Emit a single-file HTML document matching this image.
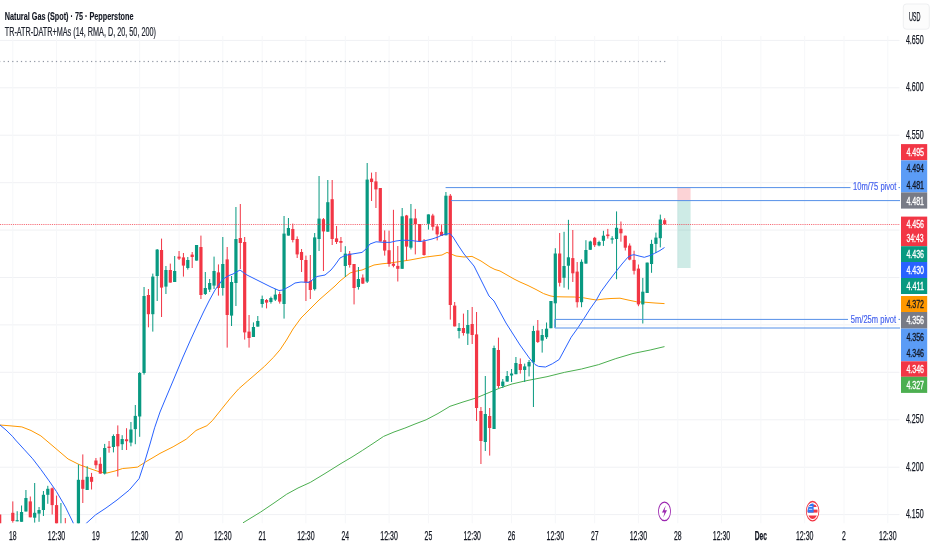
<!DOCTYPE html>
<html lang="en"><head><meta charset="utf-8"><title>Natural Gas (Spot) chart</title>
<style>html,body{margin:0;padding:0;background:#fff}body{width:932px;height:550px;overflow:hidden}</style></head>
<body>
<svg width="932" height="550" viewBox="0 0 932 550" style="display:block;font-family:'Liberation Sans',sans-serif">
<rect width="932" height="550" fill="#ffffff"/>
<g stroke="#f0f1f4" stroke-width="1">
<line x1="0" y1="40.4" x2="899.5" y2="40.4"/>
<line x1="0" y1="87.8" x2="899.5" y2="87.8"/>
<line x1="0" y1="135.2" x2="899.5" y2="135.2"/>
<line x1="0" y1="182.7" x2="899.5" y2="182.7"/>
<line x1="0" y1="230.1" x2="899.5" y2="230.1"/>
<line x1="0" y1="277.5" x2="899.5" y2="277.5"/>
<line x1="0" y1="324.9" x2="899.5" y2="324.9"/>
<line x1="0" y1="372.3" x2="899.5" y2="372.3"/>
<line x1="0" y1="419.8" x2="899.5" y2="419.8"/>
<line x1="0" y1="467.2" x2="899.5" y2="467.2"/>
<line x1="0" y1="514.6" x2="899.5" y2="514.6"/>
</g><g stroke="#f6f7f9" stroke-width="1">
<line x1="12.8" y1="36" x2="12.8" y2="523.3"/>
<line x1="56.5" y1="36" x2="56.5" y2="523.3"/>
<line x1="95.9" y1="36" x2="95.9" y2="523.3"/>
<line x1="139.7" y1="36" x2="139.7" y2="523.3"/>
<line x1="179.1" y1="36" x2="179.1" y2="523.3"/>
<line x1="222.8" y1="36" x2="222.8" y2="523.3"/>
<line x1="262.2" y1="36" x2="262.2" y2="523.3"/>
<line x1="305.9" y1="36" x2="305.9" y2="523.3"/>
<line x1="345.3" y1="36" x2="345.3" y2="523.3"/>
<line x1="389.1" y1="36" x2="389.1" y2="523.3"/>
<line x1="428.4" y1="36" x2="428.4" y2="523.3"/>
<line x1="472.2" y1="36" x2="472.2" y2="523.3"/>
<line x1="511.6" y1="36" x2="511.6" y2="523.3"/>
<line x1="555.3" y1="36" x2="555.3" y2="523.3"/>
<line x1="594.7" y1="36" x2="594.7" y2="523.3"/>
<line x1="638.4" y1="36" x2="638.4" y2="523.3"/>
<line x1="677.8" y1="36" x2="677.8" y2="523.3"/>
<line x1="721.5" y1="36" x2="721.5" y2="523.3"/>
<line x1="760.9" y1="36" x2="760.9" y2="523.3"/>
<line x1="804.7" y1="36" x2="804.7" y2="523.3"/>
<line x1="844.0" y1="36" x2="844.0" y2="523.3"/>
<line x1="887.8" y1="36" x2="887.8" y2="523.3"/>
</g>
<clipPath id="cp"><rect x="0" y="0" width="900" height="523.3"/></clipPath>
<g clip-path="url(#cp)">
<rect x="677.4" y="187.6" width="13.2" height="13.4" fill="#f23645" fill-opacity="0.22"/>
<rect x="677.4" y="201" width="13.2" height="67" fill="#089981" fill-opacity="0.2"/>
<g fill="#9096a2">
<rect x="-0.9" y="60.9" width="1.2" height="1.2"/>
<rect x="3.5" y="60.9" width="1.2" height="1.2"/>
<rect x="7.8" y="60.9" width="1.2" height="1.2"/>
<rect x="12.2" y="60.9" width="1.2" height="1.2"/>
<rect x="16.6" y="60.9" width="1.2" height="1.2"/>
<rect x="20.9" y="60.9" width="1.2" height="1.2"/>
<rect x="25.3" y="60.9" width="1.2" height="1.2"/>
<rect x="29.7" y="60.9" width="1.2" height="1.2"/>
<rect x="34.1" y="60.9" width="1.2" height="1.2"/>
<rect x="38.4" y="60.9" width="1.2" height="1.2"/>
<rect x="42.8" y="60.9" width="1.2" height="1.2"/>
<rect x="47.2" y="60.9" width="1.2" height="1.2"/>
<rect x="51.6" y="60.9" width="1.2" height="1.2"/>
<rect x="55.9" y="60.9" width="1.2" height="1.2"/>
<rect x="60.3" y="60.9" width="1.2" height="1.2"/>
<rect x="64.7" y="60.9" width="1.2" height="1.2"/>
<rect x="69.1" y="60.9" width="1.2" height="1.2"/>
<rect x="73.5" y="60.9" width="1.2" height="1.2"/>
<rect x="77.8" y="60.9" width="1.2" height="1.2"/>
<rect x="82.2" y="60.9" width="1.2" height="1.2"/>
<rect x="86.6" y="60.9" width="1.2" height="1.2"/>
<rect x="91.0" y="60.9" width="1.2" height="1.2"/>
<rect x="95.3" y="60.9" width="1.2" height="1.2"/>
<rect x="99.7" y="60.9" width="1.2" height="1.2"/>
<rect x="104.1" y="60.9" width="1.2" height="1.2"/>
<rect x="108.5" y="60.9" width="1.2" height="1.2"/>
<rect x="112.8" y="60.9" width="1.2" height="1.2"/>
<rect x="117.2" y="60.9" width="1.2" height="1.2"/>
<rect x="121.6" y="60.9" width="1.2" height="1.2"/>
<rect x="126.0" y="60.9" width="1.2" height="1.2"/>
<rect x="130.3" y="60.9" width="1.2" height="1.2"/>
<rect x="134.7" y="60.9" width="1.2" height="1.2"/>
<rect x="139.1" y="60.9" width="1.2" height="1.2"/>
<rect x="143.5" y="60.9" width="1.2" height="1.2"/>
<rect x="147.8" y="60.9" width="1.2" height="1.2"/>
<rect x="152.2" y="60.9" width="1.2" height="1.2"/>
<rect x="156.6" y="60.9" width="1.2" height="1.2"/>
<rect x="161.0" y="60.9" width="1.2" height="1.2"/>
<rect x="165.3" y="60.9" width="1.2" height="1.2"/>
<rect x="169.7" y="60.9" width="1.2" height="1.2"/>
<rect x="174.1" y="60.9" width="1.2" height="1.2"/>
<rect x="178.5" y="60.9" width="1.2" height="1.2"/>
<rect x="182.8" y="60.9" width="1.2" height="1.2"/>
<rect x="187.2" y="60.9" width="1.2" height="1.2"/>
<rect x="191.6" y="60.9" width="1.2" height="1.2"/>
<rect x="196.0" y="60.9" width="1.2" height="1.2"/>
<rect x="200.3" y="60.9" width="1.2" height="1.2"/>
<rect x="204.7" y="60.9" width="1.2" height="1.2"/>
<rect x="209.1" y="60.9" width="1.2" height="1.2"/>
<rect x="213.5" y="60.9" width="1.2" height="1.2"/>
<rect x="217.8" y="60.9" width="1.2" height="1.2"/>
<rect x="222.2" y="60.9" width="1.2" height="1.2"/>
<rect x="226.6" y="60.9" width="1.2" height="1.2"/>
<rect x="231.0" y="60.9" width="1.2" height="1.2"/>
<rect x="235.3" y="60.9" width="1.2" height="1.2"/>
<rect x="239.7" y="60.9" width="1.2" height="1.2"/>
<rect x="244.1" y="60.9" width="1.2" height="1.2"/>
<rect x="248.5" y="60.9" width="1.2" height="1.2"/>
<rect x="252.8" y="60.9" width="1.2" height="1.2"/>
<rect x="257.2" y="60.9" width="1.2" height="1.2"/>
<rect x="261.6" y="60.9" width="1.2" height="1.2"/>
<rect x="265.9" y="60.9" width="1.2" height="1.2"/>
<rect x="270.3" y="60.9" width="1.2" height="1.2"/>
<rect x="274.7" y="60.9" width="1.2" height="1.2"/>
<rect x="279.1" y="60.9" width="1.2" height="1.2"/>
<rect x="283.4" y="60.9" width="1.2" height="1.2"/>
<rect x="287.8" y="60.9" width="1.2" height="1.2"/>
<rect x="292.2" y="60.9" width="1.2" height="1.2"/>
<rect x="296.6" y="60.9" width="1.2" height="1.2"/>
<rect x="300.9" y="60.9" width="1.2" height="1.2"/>
<rect x="305.3" y="60.9" width="1.2" height="1.2"/>
<rect x="309.7" y="60.9" width="1.2" height="1.2"/>
<rect x="314.1" y="60.9" width="1.2" height="1.2"/>
<rect x="318.4" y="60.9" width="1.2" height="1.2"/>
<rect x="322.8" y="60.9" width="1.2" height="1.2"/>
<rect x="327.2" y="60.9" width="1.2" height="1.2"/>
<rect x="331.6" y="60.9" width="1.2" height="1.2"/>
<rect x="335.9" y="60.9" width="1.2" height="1.2"/>
<rect x="340.3" y="60.9" width="1.2" height="1.2"/>
<rect x="344.7" y="60.9" width="1.2" height="1.2"/>
<rect x="349.1" y="60.9" width="1.2" height="1.2"/>
<rect x="353.4" y="60.9" width="1.2" height="1.2"/>
<rect x="357.8" y="60.9" width="1.2" height="1.2"/>
<rect x="362.2" y="60.9" width="1.2" height="1.2"/>
<rect x="366.6" y="60.9" width="1.2" height="1.2"/>
<rect x="370.9" y="60.9" width="1.2" height="1.2"/>
<rect x="375.3" y="60.9" width="1.2" height="1.2"/>
<rect x="379.7" y="60.9" width="1.2" height="1.2"/>
<rect x="384.1" y="60.9" width="1.2" height="1.2"/>
<rect x="388.4" y="60.9" width="1.2" height="1.2"/>
<rect x="392.8" y="60.9" width="1.2" height="1.2"/>
<rect x="397.2" y="60.9" width="1.2" height="1.2"/>
<rect x="401.6" y="60.9" width="1.2" height="1.2"/>
<rect x="405.9" y="60.9" width="1.2" height="1.2"/>
<rect x="410.3" y="60.9" width="1.2" height="1.2"/>
<rect x="414.7" y="60.9" width="1.2" height="1.2"/>
<rect x="419.1" y="60.9" width="1.2" height="1.2"/>
<rect x="423.4" y="60.9" width="1.2" height="1.2"/>
<rect x="427.8" y="60.9" width="1.2" height="1.2"/>
<rect x="432.2" y="60.9" width="1.2" height="1.2"/>
<rect x="436.6" y="60.9" width="1.2" height="1.2"/>
<rect x="440.9" y="60.9" width="1.2" height="1.2"/>
<rect x="445.3" y="60.9" width="1.2" height="1.2"/>
<rect x="449.7" y="60.9" width="1.2" height="1.2"/>
<rect x="454.1" y="60.9" width="1.2" height="1.2"/>
<rect x="458.4" y="60.9" width="1.2" height="1.2"/>
<rect x="462.8" y="60.9" width="1.2" height="1.2"/>
<rect x="467.2" y="60.9" width="1.2" height="1.2"/>
<rect x="471.6" y="60.9" width="1.2" height="1.2"/>
<rect x="475.9" y="60.9" width="1.2" height="1.2"/>
<rect x="480.3" y="60.9" width="1.2" height="1.2"/>
<rect x="484.7" y="60.9" width="1.2" height="1.2"/>
<rect x="489.1" y="60.9" width="1.2" height="1.2"/>
<rect x="493.4" y="60.9" width="1.2" height="1.2"/>
<rect x="497.8" y="60.9" width="1.2" height="1.2"/>
<rect x="502.2" y="60.9" width="1.2" height="1.2"/>
<rect x="506.6" y="60.9" width="1.2" height="1.2"/>
<rect x="510.9" y="60.9" width="1.2" height="1.2"/>
<rect x="515.3" y="60.9" width="1.2" height="1.2"/>
<rect x="519.7" y="60.9" width="1.2" height="1.2"/>
<rect x="524.1" y="60.9" width="1.2" height="1.2"/>
<rect x="528.4" y="60.9" width="1.2" height="1.2"/>
<rect x="532.8" y="60.9" width="1.2" height="1.2"/>
<rect x="537.2" y="60.9" width="1.2" height="1.2"/>
<rect x="541.6" y="60.9" width="1.2" height="1.2"/>
<rect x="545.9" y="60.9" width="1.2" height="1.2"/>
<rect x="550.3" y="60.9" width="1.2" height="1.2"/>
<rect x="554.7" y="60.9" width="1.2" height="1.2"/>
<rect x="559.1" y="60.9" width="1.2" height="1.2"/>
<rect x="563.4" y="60.9" width="1.2" height="1.2"/>
<rect x="567.8" y="60.9" width="1.2" height="1.2"/>
<rect x="572.2" y="60.9" width="1.2" height="1.2"/>
<rect x="576.6" y="60.9" width="1.2" height="1.2"/>
<rect x="580.9" y="60.9" width="1.2" height="1.2"/>
<rect x="585.3" y="60.9" width="1.2" height="1.2"/>
<rect x="589.7" y="60.9" width="1.2" height="1.2"/>
<rect x="594.1" y="60.9" width="1.2" height="1.2"/>
<rect x="598.4" y="60.9" width="1.2" height="1.2"/>
<rect x="602.8" y="60.9" width="1.2" height="1.2"/>
<rect x="607.2" y="60.9" width="1.2" height="1.2"/>
<rect x="611.6" y="60.9" width="1.2" height="1.2"/>
<rect x="615.9" y="60.9" width="1.2" height="1.2"/>
<rect x="620.3" y="60.9" width="1.2" height="1.2"/>
<rect x="624.7" y="60.9" width="1.2" height="1.2"/>
<rect x="629.1" y="60.9" width="1.2" height="1.2"/>
<rect x="633.4" y="60.9" width="1.2" height="1.2"/>
<rect x="637.8" y="60.9" width="1.2" height="1.2"/>
<rect x="642.2" y="60.9" width="1.2" height="1.2"/>
<rect x="646.6" y="60.9" width="1.2" height="1.2"/>
<rect x="650.9" y="60.9" width="1.2" height="1.2"/>
<rect x="655.3" y="60.9" width="1.2" height="1.2"/>
<rect x="659.7" y="60.9" width="1.2" height="1.2"/>
<rect x="664.1" y="60.9" width="1.2" height="1.2"/>
</g>
<path d="M243.0 522.8 L260.7 512.0 L274.0 503.0 L286.7 494.2 L298.0 488.0 L310.3 482.4 L325.0 473.5 L341.0 463.5 L352.0 457.0 L362.3 450.5 L373.0 443.5 L383.6 436.4 L394.0 432.0 L404.9 428.1 L415.0 424.0 L426.1 419.8 L438.0 413.5 L450.0 406.3 L463.0 402.0 L476.0 398.0 L488.0 393.0 L500.0 388.0 L512.0 384.0 L524.0 381.2 L530.0 380.0 L547.0 376.7 L564.3 372.4 L581.5 369.0 L598.7 364.6 L615.8 358.6 L633.0 353.5 L650.2 350.0 L664.5 346.6" fill="none" stroke="#4caf50" stroke-width="1" stroke-linejoin="round"/>
<path d="M0.0 425.0 L10.0 425.8 L21.8 426.9 L31.0 430.5 L40.9 435.9 L54.0 447.0 L68.1 459.0 L79.0 464.5 L89.9 468.6 L100.0 472.0 L107.0 473.0 L115.0 471.0 L122.7 468.5 L130.0 467.9 L137.5 467.1 L145.6 461.9 L154.0 457.0 L160.0 453.4 L173.1 446.8 L186.2 439.2 L196.0 430.5 L199.2 429.0 L206.9 425.7 L212.3 420.7 L221.0 409.8 L229.8 398.9 L238.5 389.0 L247.2 381.4 L256.0 373.8 L264.7 366.2 L273.4 357.4 L280.0 349.8 L286.5 340.0 L293.0 329.0 L301.0 318.0 L310.0 309.0 L319.0 300.0 L327.0 293.0 L335.0 286.0 L340.0 281.0 L345.0 277.0 L350.0 273.0 L356.0 271.2 L362.0 270.0 L368.0 267.5 L374.0 265.0 L382.0 263.8 L390.0 263.0 L400.0 261.5 L410.0 260.0 L418.0 258.5 L426.0 257.0 L434.0 256.0 L442.0 255.0 L447.0 252.4 L451.0 254.0 L456.0 256.0 L464.0 257.0 L472.0 256.4 L481.0 261.0 L490.0 267.0 L495.0 269.5 L500.0 271.0 L507.0 275.0 L514.0 279.0 L520.0 282.0 L528.0 285.5 L536.0 289.5 L543.6 293.6 L550.0 295.8 L554.5 296.7 L564.0 296.9 L574.5 297.0 L583.6 297.8 L590.0 299.0 L596.4 300.0 L604.0 299.0 L611.0 298.5 L620.0 298.2 L628.0 300.0 L636.7 301.8 L646.0 302.3 L655.0 303.0 L664.5 303.6" fill="none" stroke="#ff9800" stroke-width="1" stroke-linejoin="round"/>
<rect x="-0.82" y="514.5" width="1" height="15.5" fill="#f23645"/>
<rect x="-1.92" y="514.5" width="3.2" height="15.5" fill="#f23645"/>
<rect x="12.30" y="501.4" width="1" height="21.2" fill="#f23645"/>
<rect x="11.20" y="512.8" width="3.2" height="8.2" fill="#f23645"/>
<rect x="16.68" y="511.2" width="1" height="10.1" fill="#089981"/>
<rect x="15.58" y="520.2" width="3.2" height="1.1" fill="#089981"/>
<rect x="21.05" y="505.5" width="1" height="16.3" fill="#089981"/>
<rect x="19.95" y="512.0" width="3.2" height="9.8" fill="#089981"/>
<rect x="25.43" y="490.0" width="1" height="21.5" fill="#089981"/>
<rect x="24.32" y="498.0" width="3.2" height="13.5" fill="#089981"/>
<rect x="29.80" y="496.5" width="1" height="20.8" fill="#f23645"/>
<rect x="28.70" y="501.4" width="3.2" height="15.9" fill="#f23645"/>
<rect x="34.17" y="483.0" width="1" height="39.6" fill="#089981"/>
<rect x="33.07" y="512.8" width="3.2" height="4.9" fill="#089981"/>
<rect x="38.55" y="507.0" width="1" height="14.8" fill="#089981"/>
<rect x="37.45" y="510.0" width="3.2" height="3.6" fill="#089981"/>
<rect x="42.92" y="491.0" width="1" height="25.0" fill="#089981"/>
<rect x="41.82" y="494.8" width="3.2" height="15.2" fill="#089981"/>
<rect x="47.30" y="485.8" width="1" height="18.0" fill="#089981"/>
<rect x="46.20" y="488.8" width="3.2" height="6.0" fill="#089981"/>
<rect x="51.67" y="487.5" width="1" height="27.0" fill="#f23645"/>
<rect x="50.57" y="488.3" width="3.2" height="16.8" fill="#f23645"/>
<rect x="56.05" y="495.6" width="1" height="34.4" fill="#f23645"/>
<rect x="54.95" y="505.1" width="3.2" height="24.9" fill="#f23645"/>
<rect x="60.42" y="503.0" width="1" height="27.0" fill="#089981"/>
<rect x="59.32" y="526.0" width="3.2" height="4.0" fill="#089981"/>
<rect x="64.80" y="518.0" width="1" height="12.0" fill="#f23645"/>
<rect x="63.70" y="526.0" width="3.2" height="4.0" fill="#f23645"/>
<rect x="77.92" y="464.5" width="1" height="65.5" fill="#089981"/>
<rect x="76.83" y="479.8" width="3.2" height="50.2" fill="#089981"/>
<rect x="82.30" y="454.4" width="1" height="48.6" fill="#f23645"/>
<rect x="81.20" y="479.8" width="3.2" height="9.0" fill="#f23645"/>
<rect x="86.67" y="466.2" width="1" height="23.8" fill="#089981"/>
<rect x="85.58" y="476.8" width="3.2" height="13.2" fill="#089981"/>
<rect x="91.05" y="472.9" width="1" height="16.6" fill="#f23645"/>
<rect x="89.95" y="476.9" width="3.2" height="4.9" fill="#f23645"/>
<rect x="95.42" y="458.0" width="1" height="10.7" fill="#f23645"/>
<rect x="94.33" y="460.5" width="3.2" height="4.7" fill="#f23645"/>
<rect x="99.80" y="457.3" width="1" height="16.3" fill="#f23645"/>
<rect x="98.70" y="463.8" width="3.2" height="9.8" fill="#f23645"/>
<rect x="104.17" y="443.9" width="1" height="30.6" fill="#089981"/>
<rect x="103.08" y="448.0" width="3.2" height="25.6" fill="#089981"/>
<rect x="108.55" y="441.0" width="1" height="11.7" fill="#f23645"/>
<rect x="107.45" y="446.6" width="3.2" height="1.4" fill="#f23645"/>
<rect x="112.92" y="434.4" width="1" height="18.0" fill="#089981"/>
<rect x="111.83" y="436.0" width="3.2" height="11.0" fill="#089981"/>
<rect x="117.30" y="425.4" width="1" height="51.2" fill="#f23645"/>
<rect x="116.20" y="434.0" width="3.2" height="12.3" fill="#f23645"/>
<rect x="121.67" y="435.2" width="1" height="14.8" fill="#089981"/>
<rect x="120.58" y="439.0" width="3.2" height="5.2" fill="#089981"/>
<rect x="126.05" y="428.2" width="1" height="21.8" fill="#f23645"/>
<rect x="124.95" y="439.3" width="3.2" height="1.9" fill="#f23645"/>
<rect x="130.43" y="422.0" width="1" height="24.3" fill="#089981"/>
<rect x="129.33" y="429.5" width="3.2" height="13.1" fill="#089981"/>
<rect x="134.80" y="405.0" width="1" height="39.2" fill="#089981"/>
<rect x="133.70" y="415.9" width="3.2" height="13.2" fill="#089981"/>
<rect x="139.18" y="372.0" width="1" height="64.8" fill="#089981"/>
<rect x="138.08" y="373.0" width="3.2" height="43.5" fill="#089981"/>
<rect x="143.55" y="287.0" width="1" height="87.6" fill="#089981"/>
<rect x="142.45" y="296.0" width="3.2" height="77.0" fill="#089981"/>
<rect x="147.93" y="289.0" width="1" height="38.3" fill="#f23645"/>
<rect x="146.83" y="295.0" width="3.2" height="19.2" fill="#f23645"/>
<rect x="152.30" y="273.6" width="1" height="58.0" fill="#089981"/>
<rect x="151.20" y="276.6" width="3.2" height="37.6" fill="#089981"/>
<rect x="156.68" y="249.0" width="1" height="52.0" fill="#089981"/>
<rect x="155.58" y="249.6" width="3.2" height="26.4" fill="#089981"/>
<rect x="161.05" y="238.6" width="1" height="78.4" fill="#f23645"/>
<rect x="159.95" y="250.0" width="3.2" height="37.6" fill="#f23645"/>
<rect x="165.43" y="266.0" width="1" height="28.0" fill="#089981"/>
<rect x="164.33" y="270.0" width="3.2" height="16.6" fill="#089981"/>
<rect x="169.80" y="263.6" width="1" height="19.0" fill="#f23645"/>
<rect x="168.70" y="270.0" width="3.2" height="12.6" fill="#f23645"/>
<rect x="174.18" y="256.0" width="1" height="26.0" fill="#089981"/>
<rect x="173.08" y="271.0" width="3.2" height="11.0" fill="#089981"/>
<rect x="178.55" y="251.0" width="1" height="9.0" fill="#f23645"/>
<rect x="177.45" y="256.6" width="3.2" height="2.0" fill="#f23645"/>
<rect x="182.93" y="253.0" width="1" height="23.6" fill="#f23645"/>
<rect x="181.83" y="257.4" width="3.2" height="8.2" fill="#f23645"/>
<rect x="187.30" y="257.0" width="1" height="12.6" fill="#089981"/>
<rect x="186.20" y="260.0" width="3.2" height="8.0" fill="#089981"/>
<rect x="191.68" y="252.0" width="1" height="16.0" fill="#f23645"/>
<rect x="190.58" y="254.6" width="3.2" height="2.4" fill="#f23645"/>
<rect x="196.05" y="245.0" width="1" height="15.6" fill="#089981"/>
<rect x="194.95" y="245.0" width="3.2" height="15.6" fill="#089981"/>
<rect x="200.43" y="235.6" width="1" height="63.4" fill="#f23645"/>
<rect x="199.33" y="247.0" width="3.2" height="48.0" fill="#f23645"/>
<rect x="204.80" y="272.0" width="1" height="23.0" fill="#089981"/>
<rect x="203.70" y="288.0" width="3.2" height="6.0" fill="#089981"/>
<rect x="209.18" y="279.0" width="1" height="13.0" fill="#089981"/>
<rect x="208.08" y="283.0" width="3.2" height="6.6" fill="#089981"/>
<rect x="213.55" y="256.6" width="1" height="32.4" fill="#089981"/>
<rect x="212.45" y="271.0" width="3.2" height="14.6" fill="#089981"/>
<rect x="217.93" y="264.4" width="1" height="31.2" fill="#f23645"/>
<rect x="216.83" y="272.4" width="3.2" height="15.6" fill="#f23645"/>
<rect x="222.30" y="237.0" width="1" height="58.6" fill="#089981"/>
<rect x="221.20" y="264.0" width="3.2" height="24.0" fill="#089981"/>
<rect x="226.68" y="247.0" width="1" height="100.6" fill="#f23645"/>
<rect x="225.58" y="259.4" width="3.2" height="55.6" fill="#f23645"/>
<rect x="231.05" y="276.0" width="1" height="50.0" fill="#089981"/>
<rect x="229.95" y="282.0" width="3.2" height="33.6" fill="#089981"/>
<rect x="235.43" y="207.0" width="1" height="99.0" fill="#089981"/>
<rect x="234.33" y="239.0" width="3.2" height="44.0" fill="#089981"/>
<rect x="239.80" y="204.0" width="1" height="65.0" fill="#f23645"/>
<rect x="238.70" y="238.0" width="3.2" height="5.0" fill="#f23645"/>
<rect x="244.18" y="237.0" width="1" height="102.6" fill="#f23645"/>
<rect x="243.08" y="242.0" width="3.2" height="90.4" fill="#f23645"/>
<rect x="248.55" y="315.0" width="1" height="32.6" fill="#f23645"/>
<rect x="247.45" y="331.6" width="3.2" height="6.4" fill="#f23645"/>
<rect x="252.93" y="322.4" width="1" height="14.6" fill="#089981"/>
<rect x="251.83" y="327.0" width="3.2" height="10.0" fill="#089981"/>
<rect x="257.30" y="316.0" width="1" height="10.6" fill="#089981"/>
<rect x="256.20" y="321.0" width="3.2" height="5.6" fill="#089981"/>
<rect x="261.68" y="295.6" width="1" height="12.0" fill="#089981"/>
<rect x="260.57" y="299.0" width="3.2" height="5.0" fill="#089981"/>
<rect x="266.05" y="299.0" width="1" height="9.4" fill="#f23645"/>
<rect x="264.95" y="300.0" width="3.2" height="2.6" fill="#f23645"/>
<rect x="270.43" y="296.6" width="1" height="7.0" fill="#089981"/>
<rect x="269.32" y="298.0" width="3.2" height="4.0" fill="#089981"/>
<rect x="274.80" y="289.0" width="1" height="12.0" fill="#089981"/>
<rect x="273.70" y="294.6" width="3.2" height="5.0" fill="#089981"/>
<rect x="279.18" y="291.6" width="1" height="12.0" fill="#f23645"/>
<rect x="278.07" y="294.0" width="3.2" height="7.6" fill="#f23645"/>
<rect x="283.55" y="216.0" width="1" height="102.6" fill="#089981"/>
<rect x="282.45" y="233.6" width="3.2" height="70.4" fill="#089981"/>
<rect x="287.93" y="218.0" width="1" height="17.6" fill="#089981"/>
<rect x="286.82" y="228.0" width="3.2" height="7.6" fill="#089981"/>
<rect x="292.30" y="223.6" width="1" height="18.8" fill="#f23645"/>
<rect x="291.20" y="229.0" width="3.2" height="11.0" fill="#f23645"/>
<rect x="296.68" y="236.4" width="1" height="21.6" fill="#f23645"/>
<rect x="295.57" y="239.0" width="3.2" height="15.4" fill="#f23645"/>
<rect x="301.05" y="249.0" width="1" height="23.0" fill="#f23645"/>
<rect x="299.95" y="252.0" width="3.2" height="8.0" fill="#f23645"/>
<rect x="305.43" y="255.6" width="1" height="45.4" fill="#f23645"/>
<rect x="304.32" y="260.0" width="3.2" height="22.7" fill="#f23645"/>
<rect x="309.80" y="255.0" width="1" height="44.0" fill="#f23645"/>
<rect x="308.70" y="281.0" width="3.2" height="9.0" fill="#f23645"/>
<rect x="314.18" y="233.0" width="1" height="57.6" fill="#089981"/>
<rect x="313.07" y="237.4" width="3.2" height="51.8" fill="#089981"/>
<rect x="318.55" y="176.0" width="1" height="75.0" fill="#089981"/>
<rect x="317.45" y="218.6" width="3.2" height="20.4" fill="#089981"/>
<rect x="322.93" y="218.0" width="1" height="53.0" fill="#f23645"/>
<rect x="321.82" y="219.2" width="3.2" height="12.2" fill="#f23645"/>
<rect x="327.30" y="180.0" width="1" height="51.7" fill="#089981"/>
<rect x="326.20" y="202.2" width="3.2" height="29.5" fill="#089981"/>
<rect x="331.68" y="180.0" width="1" height="65.0" fill="#f23645"/>
<rect x="330.57" y="199.2" width="3.2" height="39.8" fill="#f23645"/>
<rect x="336.05" y="226.0" width="1" height="18.0" fill="#f23645"/>
<rect x="334.95" y="238.4" width="3.2" height="3.6" fill="#f23645"/>
<rect x="340.43" y="237.0" width="1" height="15.0" fill="#f23645"/>
<rect x="339.32" y="241.0" width="3.2" height="1.8" fill="#f23645"/>
<rect x="344.80" y="246.2" width="1" height="30.8" fill="#089981"/>
<rect x="343.70" y="253.6" width="3.2" height="12.4" fill="#089981"/>
<rect x="349.18" y="251.0" width="1" height="16.6" fill="#f23645"/>
<rect x="348.07" y="253.6" width="3.2" height="11.4" fill="#f23645"/>
<rect x="353.55" y="264.0" width="1" height="40.4" fill="#f23645"/>
<rect x="352.45" y="264.0" width="3.2" height="24.0" fill="#f23645"/>
<rect x="357.93" y="267.0" width="1" height="22.6" fill="#089981"/>
<rect x="356.82" y="279.0" width="3.2" height="8.0" fill="#089981"/>
<rect x="362.30" y="274.4" width="1" height="9.6" fill="#f23645"/>
<rect x="361.20" y="277.6" width="3.2" height="6.0" fill="#f23645"/>
<rect x="366.68" y="163.0" width="1" height="120.0" fill="#089981"/>
<rect x="365.57" y="179.6" width="3.2" height="102.0" fill="#089981"/>
<rect x="371.05" y="172.6" width="1" height="28.4" fill="#f23645"/>
<rect x="369.95" y="178.6" width="3.2" height="3.4" fill="#f23645"/>
<rect x="375.43" y="172.0" width="1" height="36.0" fill="#f23645"/>
<rect x="374.32" y="181.4" width="3.2" height="8.0" fill="#f23645"/>
<rect x="379.80" y="188.0" width="1" height="53.5" fill="#f23645"/>
<rect x="378.70" y="188.0" width="3.2" height="53.5" fill="#f23645"/>
<rect x="384.18" y="230.4" width="1" height="25.2" fill="#f23645"/>
<rect x="383.07" y="240.2" width="3.2" height="10.4" fill="#f23645"/>
<rect x="388.55" y="230.6" width="1" height="36.1" fill="#f23645"/>
<rect x="387.45" y="250.2" width="3.2" height="13.8" fill="#f23645"/>
<rect x="392.93" y="209.8" width="1" height="57.5" fill="#f23645"/>
<rect x="391.82" y="263.7" width="3.2" height="2.1" fill="#f23645"/>
<rect x="397.30" y="246.0" width="1" height="35.5" fill="#f23645"/>
<rect x="396.20" y="265.9" width="3.2" height="2.9" fill="#f23645"/>
<rect x="401.68" y="208.0" width="1" height="60.8" fill="#089981"/>
<rect x="400.57" y="216.3" width="3.2" height="52.5" fill="#089981"/>
<rect x="406.05" y="214.9" width="1" height="45.5" fill="#f23645"/>
<rect x="404.95" y="215.5" width="3.2" height="31.1" fill="#f23645"/>
<rect x="410.43" y="204.0" width="1" height="45.5" fill="#089981"/>
<rect x="409.32" y="218.4" width="3.2" height="29.3" fill="#089981"/>
<rect x="414.80" y="208.9" width="1" height="45.5" fill="#f23645"/>
<rect x="413.70" y="218.4" width="3.2" height="5.6" fill="#f23645"/>
<rect x="419.18" y="224.0" width="1" height="17.3" fill="#f23645"/>
<rect x="418.07" y="224.0" width="3.2" height="17.3" fill="#f23645"/>
<rect x="423.55" y="239.0" width="1" height="16.6" fill="#f23645"/>
<rect x="422.45" y="241.3" width="3.2" height="13.7" fill="#f23645"/>
<rect x="427.93" y="214.4" width="1" height="15.2" fill="#089981"/>
<rect x="426.82" y="214.4" width="3.2" height="9.4" fill="#089981"/>
<rect x="432.30" y="213.8" width="1" height="16.7" fill="#f23645"/>
<rect x="431.20" y="215.5" width="3.2" height="11.3" fill="#f23645"/>
<rect x="436.68" y="224.2" width="1" height="16.2" fill="#f23645"/>
<rect x="435.57" y="226.4" width="3.2" height="8.0" fill="#f23645"/>
<rect x="441.05" y="225.1" width="1" height="10.9" fill="#f23645"/>
<rect x="439.95" y="231.8" width="3.2" height="4.2" fill="#f23645"/>
<rect x="445.43" y="192.0" width="1" height="43.3" fill="#089981"/>
<rect x="444.32" y="195.7" width="3.2" height="39.6" fill="#089981"/>
<rect x="449.80" y="194.0" width="1" height="125.6" fill="#f23645"/>
<rect x="448.70" y="195.7" width="3.2" height="109.3" fill="#f23645"/>
<rect x="454.18" y="302.0" width="1" height="24.4" fill="#f23645"/>
<rect x="453.07" y="305.6" width="3.2" height="20.8" fill="#f23645"/>
<rect x="458.55" y="323.0" width="1" height="15.4" fill="#089981"/>
<rect x="457.45" y="328.0" width="3.2" height="3.0" fill="#089981"/>
<rect x="462.93" y="313.6" width="1" height="22.0" fill="#f23645"/>
<rect x="461.82" y="328.0" width="3.2" height="5.0" fill="#f23645"/>
<rect x="467.30" y="310.0" width="1" height="35.0" fill="#089981"/>
<rect x="466.20" y="325.0" width="3.2" height="8.6" fill="#089981"/>
<rect x="471.68" y="307.0" width="1" height="37.0" fill="#f23645"/>
<rect x="470.57" y="324.0" width="3.2" height="11.0" fill="#f23645"/>
<rect x="476.05" y="312.0" width="1" height="109.0" fill="#f23645"/>
<rect x="474.95" y="334.4" width="3.2" height="73.6" fill="#f23645"/>
<rect x="480.43" y="407.0" width="1" height="57.0" fill="#f23645"/>
<rect x="479.32" y="411.0" width="3.2" height="30.0" fill="#f23645"/>
<rect x="484.80" y="376.0" width="1" height="75.0" fill="#089981"/>
<rect x="483.70" y="414.0" width="3.2" height="28.0" fill="#089981"/>
<rect x="489.18" y="408.0" width="1" height="47.6" fill="#f23645"/>
<rect x="488.07" y="416.0" width="3.2" height="12.0" fill="#f23645"/>
<rect x="493.55" y="345.6" width="1" height="83.4" fill="#089981"/>
<rect x="492.45" y="348.0" width="3.2" height="81.0" fill="#089981"/>
<rect x="497.93" y="337.6" width="1" height="50.4" fill="#f23645"/>
<rect x="496.82" y="350.0" width="3.2" height="36.0" fill="#f23645"/>
<rect x="502.30" y="379.0" width="1" height="9.0" fill="#089981"/>
<rect x="501.20" y="381.6" width="3.2" height="4.4" fill="#089981"/>
<rect x="506.68" y="371.0" width="1" height="10.6" fill="#089981"/>
<rect x="505.57" y="376.0" width="3.2" height="5.6" fill="#089981"/>
<rect x="511.05" y="369.0" width="1" height="13.0" fill="#089981"/>
<rect x="509.95" y="373.5" width="3.2" height="2.0" fill="#089981"/>
<rect x="515.42" y="357.0" width="1" height="17.2" fill="#089981"/>
<rect x="514.32" y="363.0" width="3.2" height="11.2" fill="#089981"/>
<rect x="519.80" y="358.4" width="1" height="15.2" fill="#f23645"/>
<rect x="518.70" y="364.0" width="3.2" height="6.0" fill="#f23645"/>
<rect x="524.17" y="363.6" width="1" height="18.4" fill="#089981"/>
<rect x="523.07" y="366.4" width="3.2" height="3.6" fill="#089981"/>
<rect x="528.55" y="360.0" width="1" height="16.4" fill="#089981"/>
<rect x="527.45" y="362.0" width="3.2" height="4.4" fill="#089981"/>
<rect x="532.92" y="325.8" width="1" height="81.2" fill="#089981"/>
<rect x="531.82" y="331.0" width="3.2" height="31.5" fill="#089981"/>
<rect x="537.30" y="320.0" width="1" height="23.0" fill="#f23645"/>
<rect x="536.20" y="330.5" width="3.2" height="11.5" fill="#f23645"/>
<rect x="541.67" y="329.0" width="1" height="23.6" fill="#089981"/>
<rect x="540.57" y="335.0" width="3.2" height="5.6" fill="#089981"/>
<rect x="546.05" y="322.5" width="1" height="16.5" fill="#089981"/>
<rect x="544.95" y="328.7" width="3.2" height="8.5" fill="#089981"/>
<rect x="550.42" y="301.0" width="1" height="27.2" fill="#089981"/>
<rect x="549.32" y="301.0" width="3.2" height="27.2" fill="#089981"/>
<rect x="554.80" y="248.2" width="1" height="79.3" fill="#089981"/>
<rect x="553.70" y="253.5" width="3.2" height="49.8" fill="#089981"/>
<rect x="559.17" y="233.0" width="1" height="53.5" fill="#f23645"/>
<rect x="558.07" y="253.5" width="3.2" height="29.3" fill="#f23645"/>
<rect x="563.55" y="231.8" width="1" height="55.9" fill="#089981"/>
<rect x="562.45" y="266.0" width="3.2" height="11.8" fill="#089981"/>
<rect x="567.92" y="219.8" width="1" height="69.7" fill="#089981"/>
<rect x="566.82" y="257.3" width="3.2" height="8.4" fill="#089981"/>
<rect x="572.30" y="230.0" width="1" height="52.0" fill="#f23645"/>
<rect x="571.20" y="258.1" width="3.2" height="15.2" fill="#f23645"/>
<rect x="576.67" y="262.0" width="1" height="45.5" fill="#f23645"/>
<rect x="575.57" y="271.6" width="3.2" height="30.6" fill="#f23645"/>
<rect x="581.05" y="259.4" width="1" height="47.8" fill="#089981"/>
<rect x="579.95" y="261.8" width="3.2" height="40.4" fill="#089981"/>
<rect x="585.42" y="240.2" width="1" height="23.4" fill="#089981"/>
<rect x="584.32" y="250.0" width="3.2" height="13.6" fill="#089981"/>
<rect x="589.80" y="240.7" width="1" height="9.1" fill="#089981"/>
<rect x="588.70" y="241.5" width="3.2" height="8.3" fill="#089981"/>
<rect x="594.17" y="236.9" width="1" height="10.1" fill="#f23645"/>
<rect x="593.07" y="237.8" width="3.2" height="7.4" fill="#f23645"/>
<rect x="598.55" y="240.7" width="1" height="5.6" fill="#089981"/>
<rect x="597.45" y="242.0" width="3.2" height="3.5" fill="#089981"/>
<rect x="602.92" y="230.8" width="1" height="15.1" fill="#089981"/>
<rect x="601.82" y="235.7" width="3.2" height="5.1" fill="#089981"/>
<rect x="607.30" y="228.9" width="1" height="9.7" fill="#f23645"/>
<rect x="606.20" y="234.5" width="3.2" height="1.6" fill="#f23645"/>
<rect x="611.67" y="236.2" width="1" height="7.5" fill="#089981"/>
<rect x="610.57" y="238.3" width="3.2" height="1.3" fill="#089981"/>
<rect x="616.05" y="211.4" width="1" height="67.8" fill="#089981"/>
<rect x="614.95" y="227.8" width="3.2" height="11.2" fill="#089981"/>
<rect x="620.42" y="221.5" width="1" height="20.2" fill="#f23645"/>
<rect x="619.32" y="228.8" width="3.2" height="4.5" fill="#f23645"/>
<rect x="624.80" y="235.6" width="1" height="14.9" fill="#f23645"/>
<rect x="623.70" y="235.7" width="3.2" height="12.0" fill="#f23645"/>
<rect x="629.17" y="243.4" width="1" height="16.9" fill="#f23645"/>
<rect x="628.07" y="245.6" width="3.2" height="14.0" fill="#f23645"/>
<rect x="633.55" y="250.7" width="1" height="23.8" fill="#f23645"/>
<rect x="632.45" y="259.9" width="3.2" height="10.9" fill="#f23645"/>
<rect x="637.92" y="264.5" width="1" height="41.7" fill="#f23645"/>
<rect x="636.82" y="268.6" width="3.2" height="35.8" fill="#f23645"/>
<rect x="642.30" y="277.9" width="1" height="45.6" fill="#089981"/>
<rect x="641.20" y="291.7" width="3.2" height="12.7" fill="#089981"/>
<rect x="646.67" y="262.6" width="1" height="30.4" fill="#089981"/>
<rect x="645.57" y="262.6" width="3.2" height="30.4" fill="#089981"/>
<rect x="651.05" y="239.8" width="1" height="33.0" fill="#089981"/>
<rect x="649.95" y="243.9" width="3.2" height="20.1" fill="#089981"/>
<rect x="655.42" y="232.6" width="1" height="20.4" fill="#089981"/>
<rect x="654.32" y="237.6" width="3.2" height="6.3" fill="#089981"/>
<rect x="659.80" y="214.6" width="1" height="32.8" fill="#089981"/>
<rect x="658.70" y="219.5" width="3.2" height="18.7" fill="#089981"/>
<rect x="664.17" y="218.2" width="1" height="6.5" fill="#f23645"/>
<rect x="663.07" y="220.2" width="3.2" height="4.1" fill="#f23645"/>
<path d="M0.0 425.0 L6.0 430.0 L12.8 436.7 L15.5 440.0 L24.5 449.8 L32.7 458.8 L40.9 469.5 L49.1 480.9 L56.5 491.6 L65.5 507.1 L72.8 522.0 L73.6 524.0 M85.5 524.0 L95.4 515.0 L106.0 508.0 L117.0 500.0 L129.3 490.0 L139.1 478.6 L144.8 461.4 L150.0 444.0 L154.6 427.8 L160.0 412.0 L165.0 400.0 L173.0 381.0 L183.0 357.0 L190.5 340.0 L196.0 328.0 L203.5 312.0 L209.0 301.0 L215.0 290.0 L223.0 279.0 L229.0 275.5 L233.0 274.0 L240.0 270.0 L244.0 273.0 L247.0 275.0 L257.0 280.0 L261.0 282.0 L271.0 287.0 L279.0 290.5 L283.0 290.0 L291.0 285.6 L295.0 283.0 L301.0 282.0 L309.0 282.4 L317.0 276.5 L325.0 275.0 L331.0 270.0 L335.0 265.0 L340.0 258.0 L345.0 255.5 L350.0 254.4 L362.0 252.4 L366.0 249.0 L370.0 244.0 L376.0 241.8 L383.0 242.3 L390.0 242.4 L396.0 241.0 L402.0 240.2 L410.0 240.4 L420.0 241.6 L426.0 240.5 L432.0 239.0 L438.0 237.0 L442.0 235.0 L446.0 234.0 L450.0 233.6 L453.0 237.0 L458.0 245.0 L464.0 254.0 L469.0 260.0 L474.0 266.0 L481.0 280.0 L489.0 296.0 L494.0 301.0 L500.0 312.0 L506.0 323.0 L513.0 334.0 L520.0 345.0 L525.0 352.0 L530.0 359.0 L535.0 364.5 L538.6 366.4 L545.5 367.0 L552.3 363.8 L559.2 359.5 L564.3 350.0 L571.2 337.2 L578.0 327.7 L583.3 319.6 L590.0 309.0 L596.4 300.0 L601.0 291.6 L608.0 282.0 L616.3 271.2 L622.0 264.0 L627.8 257.3 L631.0 255.3 L634.1 254.7 L639.0 256.0 L644.3 257.3 L650.0 255.5 L654.5 253.4 L660.0 250.5 L664.5 247.5" fill="none" stroke="#2962ff" stroke-width="1" stroke-linejoin="round"/>
<g stroke="#5590e8" stroke-width="1" fill="none">
<path d="M445.6 187.6H850.5 M898.5 187.6H901"/>
<path d="M451 200.6H901"/>
<path d="M554.8 319.4H848 M898.5 319.4H901"/>
<path d="M554.8 328H901"/>
<path d="M554.8 319.4V328"/>
</g>
<line x1="0" y1="224.5" x2="901" y2="224.5" stroke="#f23645" stroke-opacity="0.8" stroke-width="1" stroke-dasharray="0.9 0.96"/>
</g>
<text x="874.7" y="190.4" font-size="11" fill="#4663ee" stroke="#4663ee" stroke-width="0.2" font-weight="normal" text-anchor="middle" textLength="43.4" lengthAdjust="spacingAndGlyphs">10m/75 pivot</text>
<text x="873.5" y="322.5" font-size="11" fill="#4663ee" stroke="#4663ee" stroke-width="0.2" font-weight="normal" text-anchor="middle" textLength="45.3" lengthAdjust="spacingAndGlyphs">5m/25m pivot</text>
<text x="914.8" y="44.0" font-size="12" fill="#131722" stroke="#131722" stroke-width="0.25" font-weight="normal" text-anchor="middle" textLength="17.8" lengthAdjust="spacingAndGlyphs">4.650</text>
<text x="914.8" y="91.4" font-size="12" fill="#131722" stroke="#131722" stroke-width="0.25" font-weight="normal" text-anchor="middle" textLength="17.8" lengthAdjust="spacingAndGlyphs">4.600</text>
<text x="914.8" y="138.8" font-size="12" fill="#131722" stroke="#131722" stroke-width="0.25" font-weight="normal" text-anchor="middle" textLength="17.8" lengthAdjust="spacingAndGlyphs">4.550</text>
<text x="914.8" y="423.4" font-size="12" fill="#131722" stroke="#131722" stroke-width="0.25" font-weight="normal" text-anchor="middle" textLength="17.8" lengthAdjust="spacingAndGlyphs">4.250</text>
<text x="914.8" y="470.8" font-size="12" fill="#131722" stroke="#131722" stroke-width="0.25" font-weight="normal" text-anchor="middle" textLength="17.8" lengthAdjust="spacingAndGlyphs">4.200</text>
<text x="914.8" y="518.2" font-size="12" fill="#131722" stroke="#131722" stroke-width="0.25" font-weight="normal" text-anchor="middle" textLength="17.8" lengthAdjust="spacingAndGlyphs">4.150</text>
<rect x="901" y="144.1" width="26.2" height="16.2" fill="#f23645"/>
<text x="915.2" y="156.3" font-size="11.5" fill="#fff" stroke="#fff" stroke-width="0.35" font-weight="normal" text-anchor="middle" textLength="17.6" lengthAdjust="spacingAndGlyphs">4.495</text>
<rect x="901" y="160.3" width="26.2" height="32.1" fill="#5b9cf6"/>
<text x="915.2" y="172.4" font-size="11.5" fill="#131722" stroke="#131722" stroke-width="0.35" font-weight="normal" text-anchor="middle" textLength="17.6" lengthAdjust="spacingAndGlyphs">4.494</text>
<text x="915.2" y="188.5" font-size="11.5" fill="#131722" stroke="#131722" stroke-width="0.35" font-weight="normal" text-anchor="middle" textLength="17.6" lengthAdjust="spacingAndGlyphs">4.481</text>
<rect x="901" y="192.4" width="26.2" height="16.2" fill="#787b86"/>
<text x="915.2" y="204.6" font-size="11.5" fill="#fff" stroke="#fff" stroke-width="0.35" font-weight="normal" text-anchor="middle" textLength="17.6" lengthAdjust="spacingAndGlyphs">4.481</text>
<rect x="901" y="216.6" width="26.2" height="29.6" fill="#f23645"/>
<text x="915.2" y="228.1" font-size="11.5" fill="#fff" stroke="#fff" stroke-width="0.35" font-weight="normal" text-anchor="middle" textLength="17.6" lengthAdjust="spacingAndGlyphs">4.456</text>
<text x="915" y="242.4" font-size="11" fill="#fff" stroke="#fff" stroke-width="0.3" font-weight="normal" text-anchor="middle" textLength="17.2" lengthAdjust="spacingAndGlyphs">34:43</text>
<rect x="901" y="246.2" width="26.2" height="15.8" fill="#089981"/>
<text x="915.2" y="258.2" font-size="11.5" fill="#fff" stroke="#fff" stroke-width="0.35" font-weight="normal" text-anchor="middle" textLength="17.6" lengthAdjust="spacingAndGlyphs">4.436</text>
<rect x="901" y="262" width="26.2" height="16.0" fill="#2962ff"/>
<text x="915.2" y="274.1" font-size="11.5" fill="#fff" stroke="#fff" stroke-width="0.35" font-weight="normal" text-anchor="middle" textLength="17.6" lengthAdjust="spacingAndGlyphs">4.430</text>
<rect x="901" y="278" width="26.2" height="16.0" fill="#089981"/>
<text x="915.2" y="290.1" font-size="11.5" fill="#fff" stroke="#fff" stroke-width="0.35" font-weight="normal" text-anchor="middle" textLength="17.6" lengthAdjust="spacingAndGlyphs">4.411</text>
<rect x="901" y="296" width="26.2" height="16.0" fill="#ff9800"/>
<text x="915.2" y="308.1" font-size="11.5" fill="#131722" stroke="#131722" stroke-width="0.35" font-weight="normal" text-anchor="middle" textLength="17.6" lengthAdjust="spacingAndGlyphs">4.372</text>
<rect x="901" y="312.0" width="26.2" height="16.6" fill="#787b86"/>
<text x="915.2" y="324.4" font-size="11.5" fill="#fff" stroke="#fff" stroke-width="0.35" font-weight="normal" text-anchor="middle" textLength="17.6" lengthAdjust="spacingAndGlyphs">4.356</text>
<rect x="901" y="328.6" width="26.2" height="32.7" fill="#5b9cf6"/>
<text x="915.2" y="340.9" font-size="11.5" fill="#131722" stroke="#131722" stroke-width="0.35" font-weight="normal" text-anchor="middle" textLength="17.6" lengthAdjust="spacingAndGlyphs">4.356</text>
<text x="915.2" y="357.2" font-size="11.5" fill="#131722" stroke="#131722" stroke-width="0.35" font-weight="normal" text-anchor="middle" textLength="17.6" lengthAdjust="spacingAndGlyphs">4.346</text>
<rect x="901" y="361.3" width="26.2" height="15.5" fill="#f23645"/>
<text x="915.2" y="373.2" font-size="11.5" fill="#fff" stroke="#fff" stroke-width="0.35" font-weight="normal" text-anchor="middle" textLength="17.6" lengthAdjust="spacingAndGlyphs">4.346</text>
<rect x="901" y="376.8" width="26.2" height="16.1" fill="#4caf50"/>
<text x="915.2" y="389.0" font-size="11.5" fill="#fff" stroke="#fff" stroke-width="0.35" font-weight="normal" text-anchor="middle" textLength="17.6" lengthAdjust="spacingAndGlyphs">4.327</text>
<rect x="903.3" y="4" width="26" height="25.2" rx="3" fill="#fcfcfc" stroke="#eeeff1" stroke-width="1"/>
<text x="914.7" y="20.7" font-size="12" fill="#131722" stroke="#131722" stroke-width="0.25" font-weight="normal" text-anchor="middle" textLength="11.6" lengthAdjust="spacingAndGlyphs">USD</text>
<text x="12.8" y="540.4" font-size="12" fill="#131722" stroke="#131722" stroke-width="0.25" font-weight="normal" text-anchor="middle" textLength="7.6" lengthAdjust="spacingAndGlyphs">18</text>
<text x="56.5" y="540.4" font-size="12" fill="#131722" stroke="#131722" stroke-width="0.25" font-weight="normal" text-anchor="middle" textLength="17.5" lengthAdjust="spacingAndGlyphs">12:30</text>
<text x="95.9" y="540.4" font-size="12" fill="#131722" stroke="#131722" stroke-width="0.25" font-weight="normal" text-anchor="middle" textLength="7.6" lengthAdjust="spacingAndGlyphs">19</text>
<text x="139.7" y="540.4" font-size="12" fill="#131722" stroke="#131722" stroke-width="0.25" font-weight="normal" text-anchor="middle" textLength="17.5" lengthAdjust="spacingAndGlyphs">12:30</text>
<text x="179.1" y="540.4" font-size="12" fill="#131722" stroke="#131722" stroke-width="0.25" font-weight="normal" text-anchor="middle" textLength="7.6" lengthAdjust="spacingAndGlyphs">20</text>
<text x="222.8" y="540.4" font-size="12" fill="#131722" stroke="#131722" stroke-width="0.25" font-weight="normal" text-anchor="middle" textLength="17.5" lengthAdjust="spacingAndGlyphs">12:30</text>
<text x="262.2" y="540.4" font-size="12" fill="#131722" stroke="#131722" stroke-width="0.25" font-weight="normal" text-anchor="middle" textLength="7.6" lengthAdjust="spacingAndGlyphs">21</text>
<text x="305.9" y="540.4" font-size="12" fill="#131722" stroke="#131722" stroke-width="0.25" font-weight="normal" text-anchor="middle" textLength="17.5" lengthAdjust="spacingAndGlyphs">12:30</text>
<text x="345.3" y="540.4" font-size="12" fill="#131722" stroke="#131722" stroke-width="0.25" font-weight="normal" text-anchor="middle" textLength="7.6" lengthAdjust="spacingAndGlyphs">24</text>
<text x="389.1" y="540.4" font-size="12" fill="#131722" stroke="#131722" stroke-width="0.25" font-weight="normal" text-anchor="middle" textLength="17.5" lengthAdjust="spacingAndGlyphs">12:30</text>
<text x="428.4" y="540.4" font-size="12" fill="#131722" stroke="#131722" stroke-width="0.25" font-weight="normal" text-anchor="middle" textLength="7.6" lengthAdjust="spacingAndGlyphs">25</text>
<text x="472.2" y="540.4" font-size="12" fill="#131722" stroke="#131722" stroke-width="0.25" font-weight="normal" text-anchor="middle" textLength="17.5" lengthAdjust="spacingAndGlyphs">12:30</text>
<text x="511.6" y="540.4" font-size="12" fill="#131722" stroke="#131722" stroke-width="0.25" font-weight="normal" text-anchor="middle" textLength="7.6" lengthAdjust="spacingAndGlyphs">26</text>
<text x="555.3" y="540.4" font-size="12" fill="#131722" stroke="#131722" stroke-width="0.25" font-weight="normal" text-anchor="middle" textLength="17.5" lengthAdjust="spacingAndGlyphs">12:30</text>
<text x="594.7" y="540.4" font-size="12" fill="#131722" stroke="#131722" stroke-width="0.25" font-weight="normal" text-anchor="middle" textLength="7.6" lengthAdjust="spacingAndGlyphs">27</text>
<text x="638.4" y="540.4" font-size="12" fill="#131722" stroke="#131722" stroke-width="0.25" font-weight="normal" text-anchor="middle" textLength="17.5" lengthAdjust="spacingAndGlyphs">12:30</text>
<text x="677.8" y="540.4" font-size="12" fill="#131722" stroke="#131722" stroke-width="0.25" font-weight="normal" text-anchor="middle" textLength="7.6" lengthAdjust="spacingAndGlyphs">28</text>
<text x="721.5" y="540.4" font-size="12" fill="#131722" stroke="#131722" stroke-width="0.25" font-weight="normal" text-anchor="middle" textLength="17.5" lengthAdjust="spacingAndGlyphs">12:30</text>
<text x="760.9" y="540.4" font-size="12" fill="#131722" stroke="#131722" stroke-width="0.25" font-weight="bold" text-anchor="middle" textLength="12.1" lengthAdjust="spacingAndGlyphs">Dec</text>
<text x="804.7" y="540.4" font-size="12" fill="#131722" stroke="#131722" stroke-width="0.25" font-weight="normal" text-anchor="middle" textLength="17.5" lengthAdjust="spacingAndGlyphs">12:30</text>
<text x="844.0" y="540.4" font-size="12" fill="#131722" stroke="#131722" stroke-width="0.25" font-weight="normal" text-anchor="middle" textLength="3.8" lengthAdjust="spacingAndGlyphs">2</text>
<text x="887.8" y="540.4" font-size="12" fill="#131722" stroke="#131722" stroke-width="0.25" font-weight="normal" text-anchor="middle" textLength="17.5" lengthAdjust="spacingAndGlyphs">12:30</text>
<text x="4.7" y="19.6" font-size="11" fill="#131722" stroke="#131722" stroke-width="0.15" font-weight="bold" text-anchor="start" textLength="128.8" lengthAdjust="spacingAndGlyphs">Natural Gas (Spot) · 75 · Pepperstone</text>
<text x="4.7" y="35.8" font-size="12" fill="#1e222d" stroke="#1e222d" stroke-width="0.2" font-weight="normal" text-anchor="start" textLength="151.3" lengthAdjust="spacingAndGlyphs">TR-ATR-DATR+MAs (14, RMA, D, 20, 50, 200)</text>
<g transform="translate(664.5 511.4) scale(0.645 1)"><circle r="9.3" fill="#fff" stroke="#9c27b0" stroke-width="1.3"/><path d="M1.9 -6L-3.9 1.1H-0.1L-1.9 6L3.9 -1.1H0.1Z" fill="#9c27b0"/></g>
<g transform="translate(812.6 511.2) scale(0.645 1)"><clipPath id="fc"><circle r="7.7"/></clipPath><circle r="9.7" fill="#fff" stroke="#f23645" stroke-width="1.3"/><g clip-path="url(#fc)"><rect x="-9" y="-9" width="18" height="18" fill="#fff"/><rect x="-9" y="-6.6" width="18" height="2.4" fill="#f23645"/><rect x="-9" y="-1.6" width="18" height="3" fill="#f23645"/><rect x="-9" y="4.3" width="18" height="4.4" fill="#f23645"/><rect x="-9" y="-9" width="10.6" height="10.4" fill="#3179f5"/><rect x="-5.8" y="-5.2" width="5.4" height="1" fill="#fff" fill-opacity=".75"/><rect x="-5.8" y="-2.4" width="5.4" height="1" fill="#fff" fill-opacity=".75"/></g></g>
</svg>
</body></html>
